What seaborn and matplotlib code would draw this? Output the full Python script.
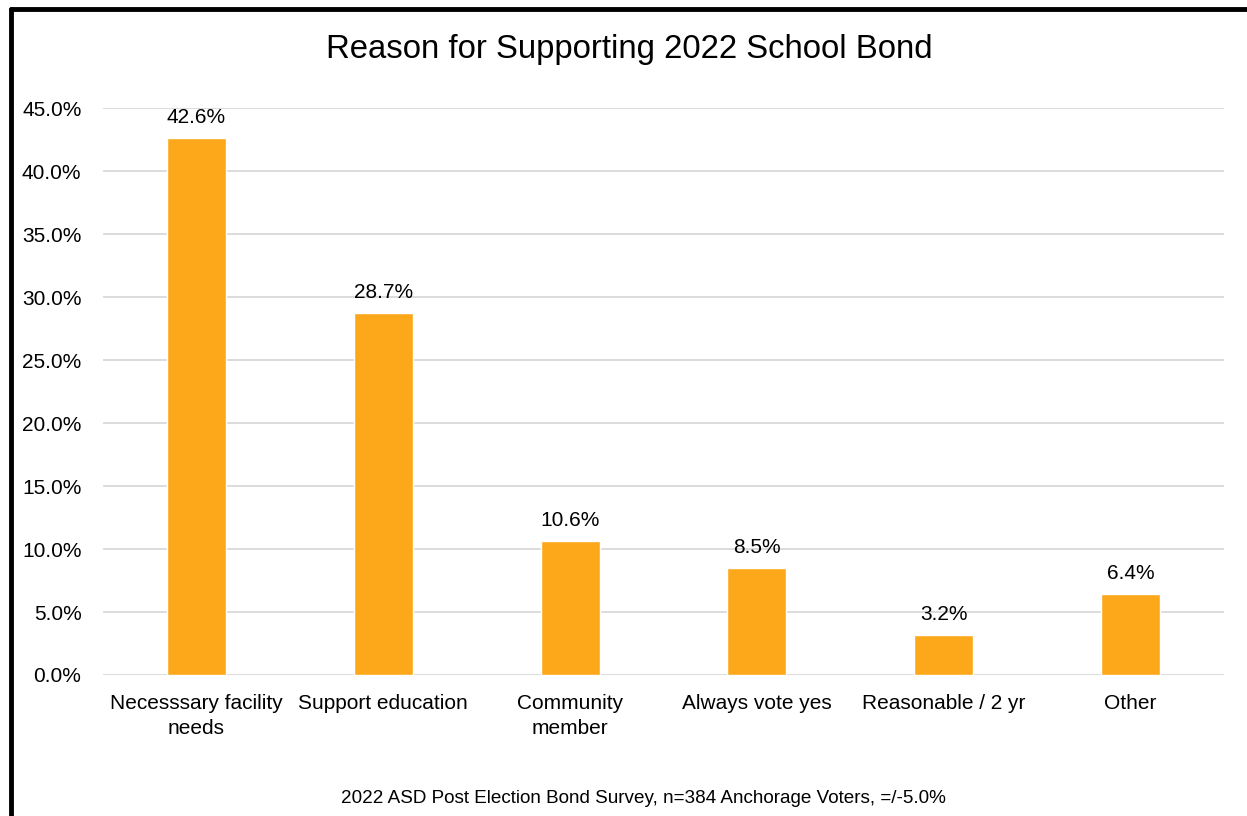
import matplotlib
matplotlib.use('Agg')
import matplotlib.pyplot as plt
from matplotlib.lines import Line2D
from matplotlib.ticker import PercentFormatter
import pandas as pd
import seaborn as sns

# survey answers, share of voters who supported the bond
reasons = ['Necesssary facility\nneeds', 'Support education', 'Community\nmember',
           'Always vote yes', 'Reasonable / 2 yr', 'Other']
shares = [42.6, 28.7, 10.6, 8.5, 3.2, 6.4]
y_ticks = [0, 5, 10, 15, 20, 25, 30, 35, 40, 45]

df = pd.DataFrame({'reason': reasons, 'share': shares})

sns.set_theme(style='white')
plt.rcParams['font.family'] = ['Liberation Sans', 'DejaVu Sans']
plt.rcParams['text.color'] = 'black'
plt.rcParams['xtick.color'] = 'black'
plt.rcParams['ytick.color'] = 'black'

fig = plt.figure(figsize=(12.47, 8.16), dpi=100)
ax = fig.add_axes([0.0826, 0.1728, 0.899, 0.6948])

sns.barplot(data=df, x='reason', y='share', color='#FDA81B', saturation=1,
            width=0.316, ax=ax, zorder=3)

ax.set_ylim(0, 45)
ax.set_xlim(-0.5, len(reasons) - 0.5)
ax.set_yticks(y_ticks)
ax.yaxis.set_major_formatter(PercentFormatter(decimals=1))
ax.grid(axis='y', color='#D9D9D9', linewidth=1.3, zorder=0)
for s in ax.spines.values():
    s.set_visible(False)
ax.tick_params(axis='y', labelsize=15, pad=15.5, length=0)
ax.tick_params(axis='x', labelsize=15, pad=14, length=0)
for lbl in ax.get_xticklabels():
    lbl.set_linespacing(1.35)
ax.set_xlabel('')
ax.set_ylabel('')

ax.bar_label(ax.containers[0], labels=[f'{v:.1f}%' for v in shares],
             padding=8, fontsize=15)

fig.text(0.505, 0.939, 'Reason for Supporting 2022 School Bond', ha='center', va='center', fontsize=23.7)
fig.text(0.516, 0.022, '2022 ASD Post Election Bond Survey, n=384 Anchorage Voters, =/-5.0%',
         ha='center', va='center', fontsize=13.6)

# black frame on top and left, as in the screenshot
fig.add_artist(Line2D([0.0088, 1.0], [0.9890, 0.9890], color='black', linewidth=3.5))
fig.add_artist(Line2D([0.0088, 0.0088], [0.0, 0.9890], color='black', linewidth=3.5))

fig.savefig('out.png', dpi=100)
